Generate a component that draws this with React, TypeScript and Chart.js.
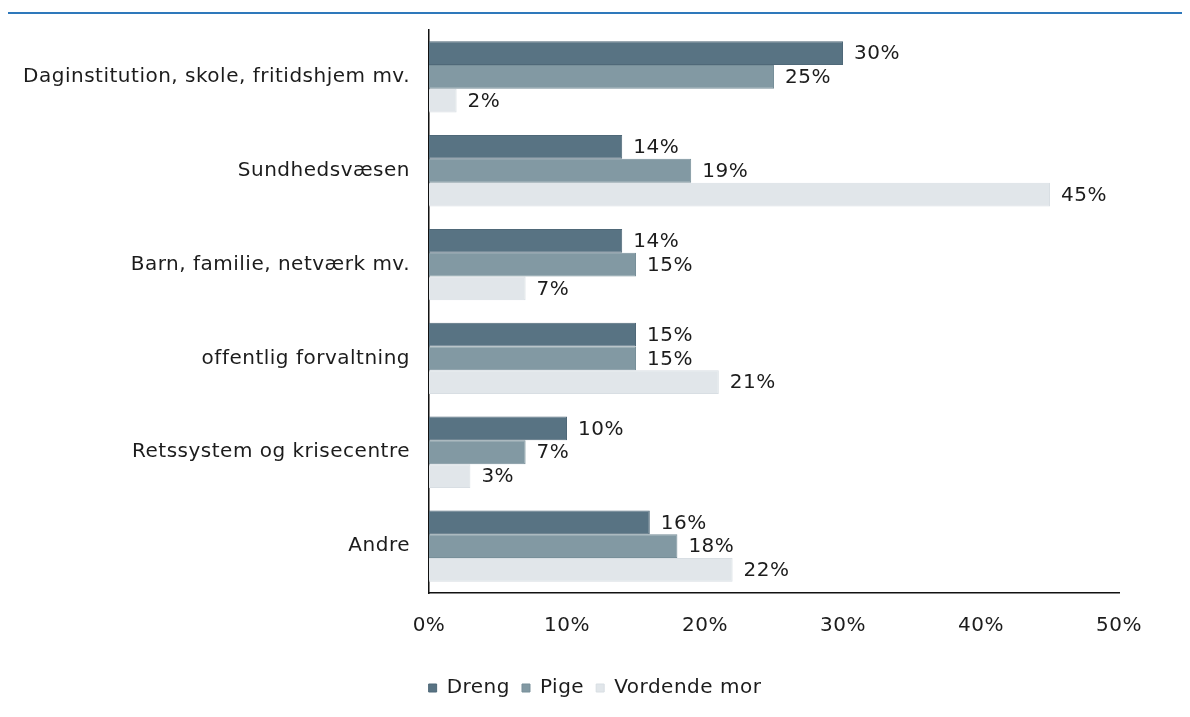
import React, { useEffect, useRef } from "react";
import { Chart, registerables } from "chart.js";

Chart.register(...registerables);

const categories = [
  "Daginstitution, skole, fritidshjem mv.",
  "Sundhedsvæsen",
  "Barn, familie, netværk mv.",
  "offentlig forvaltning",
  "Retssystem og krisecentre",
  "Andre",
];
const seriesNames = ["Dreng", "Pige", "Vordende mor"];
const dreng = [30, 14, 14, 15, 10, 16];
const pige = [25, 19, 15, 15, 7, 18];
const vordende = [2, 45, 7, 21, 3, 22];
const xTicks = [0, 10, 20, 30, 40, 50];
const colors = ["#587383", "#8299a3", "#e1e6ea"];
const borders = ["#4f6878", "#778f99", "#d8dee3"];

const FONT = "'DejaVu Sans', Verdana, sans-serif";
const SIZE = 20;
const SPACING = "0.5px";
const TEXT = "#1c1c1c";

const spacingPlugin = {
  id: "spacing",
  beforeLayout(chart: any) {
    chart.ctx.letterSpacing = SPACING;
  },
  beforeDraw(chart: any) {
    chart.ctx.letterSpacing = SPACING;
  },
};

const labelPlugin = {
  id: "valueLabels",
  afterDatasetsDraw(chart: any) {
    const ctx = chart.ctx;
    ctx.save();
    ctx.letterSpacing = SPACING;
    ctx.font = `${SIZE}px ${FONT}`;
    ctx.fillStyle = TEXT;
    ctx.textAlign = "left";
    ctx.textBaseline = "middle";
    chart.data.datasets.forEach((ds: any, i: number) => {
      const meta = chart.getDatasetMeta(i);
      meta.data.forEach((bar: any, j: number) => {
        ctx.fillText(`${ds.data[j]}%`, bar.x + 11, bar.y + 1);
      });
    });
    // category labels on the y axis
    const y = chart.scales.y;
    ctx.textAlign = "right";
    chart.data.labels.forEach((lab: string, j: number) => {
      ctx.fillText(lab, y.right - 19, y.getPixelForValue(j));
    });
    ctx.restore();
  },
};

export default function App() {
  const ref = useRef<HTMLCanvasElement>(null);
  useEffect(() => {
    if (!ref.current) return;
    const chart = new Chart(ref.current, {
      type: "bar",
      data: {
        labels: categories,
        datasets: [dreng, pige, vordende].map((d, i) => ({
          label: seriesNames[i],
          data: d,
          backgroundColor: colors[i],
          borderColor: borders[i],
          borderWidth: 1,
          barPercentage: 1,
          categoryPercentage: 0.76,
        })),
      },
      options: {
        indexAxis: "y",
        animation: false,
        responsive: true,
        maintainAspectRatio: false,
        layout: { padding: { top: 16, right: 0, bottom: 0, left: 0 } },
        scales: {
          x: {
            min: 0,
            max: 50,
            afterBuildTicks: (axis: any) => {
              axis.ticks = xTicks.map((v) => ({ value: v }));
            },
            afterFit: (axis: any) => {
              axis.height = 73;
              axis.paddingRight = 63;
            },
            grid: { display: false, drawTicks: false },
            border: { display: true, color: "#111111", width: 1.5 },
            ticks: {
              padding: 21,
              color: TEXT,
              font: { family: FONT, size: SIZE },
              callback: (v: any) => `${v}%`,
            },
          },
          y: {
            grid: { display: false, drawTicks: false },
            border: { display: true, color: "#111111", width: 1.5 },
            afterFit: (axis: any) => {
              axis.width = 421;
            },
            ticks: { display: false },
          },
        },
        plugins: {
          legend: {
            position: "bottom",
            labels: {
              boxWidth: 8,
              boxHeight: 8,
              padding: 12,
              color: TEXT,
              font: { family: FONT, size: SIZE },
            },
          },
          tooltip: { enabled: false },
        },
      },
      plugins: [spacingPlugin, labelPlugin],
    });
    return () => chart.destroy();
  }, []);
  return (
    <div style={{ width: 1174 }}>
      <div style={{ height: 2, width: 1182, background: "#2e78bb", marginTop: 4 }} />
      <div style={{ position: "relative", height: 694 }}>
        <canvas ref={ref} />
      </div>
    </div>
  );
}
